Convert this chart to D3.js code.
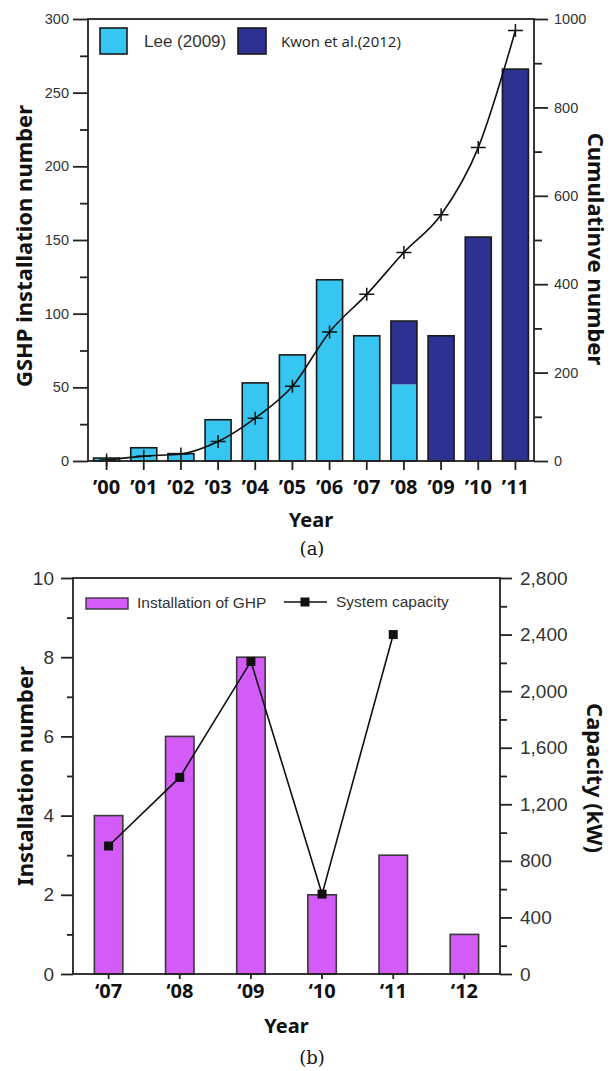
<!DOCTYPE html>
<html>
<head>
<meta charset="utf-8">
<script src="https://cdn.jsdelivr.net/npm/d3@7/dist/d3.min.js"></script>
<style>
  body { margin: 0; background: #fff; }
  svg { display: block; }
  .tick-label { font-family: "Liberation Sans", Arial, sans-serif; fill: #333; }
  .title { font-family: "Noto Sans", sans-serif; font-weight: bold; fill: #111; }
</style>
</head>
<body>
<svg id="chart" width="611" height="1071"></svg>
<script>
// ---- panel (a) data
const yearsA = ["’00", "’01", "’02", "’03", "’04", "’05", "’06", "’07", "’08", "’09", "’10", "’11"];
const leeValues = [2, 9, 5, 28, 53, 72, 123, 85, 52, 0, 0, 0];
const kwonValues = [0, 0, 0, 0, 0, 0, 0, 0, 43, 85, 152, 266];
const cumulativeValues = [2, 11, 16, 44, 97, 169, 292, 377, 472, 557, 709, 974];
const leftTicksA = [0, 50, 100, 150, 200, 250, 300];
const rightTicksA = [0, 200, 400, 600, 800, 1000];

// ---- panel (b) data
const yearsB = ["‘07", "‘08", "‘09", "‘10", "‘11", "‘12"];
const ghpValues = [4, 6, 8, 2, 3, 1];
const capacityYears = ["‘07", "‘08", "‘09", "‘10", "‘11"];
const capacityValues = [905, 1390, 2210, 565, 2400];
const leftTicksB = [0, 2, 4, 6, 8, 10];
const rightTicksB = [0, 400, 800, 1200, 1600, 2000, 2400, 2800];

const lightBlue = "#36c6f1", navy = "#2d3192", purple = "#d35cf8";
const svg = d3.select("#chart");

function frame(g, x0, x1, y0, y1) {
	g.append("rect")
		.attr("x", x0).attr("y", y0)
		.attr("width", x1 - x0).attr("height", y1 - y0)
		.attr("fill", "none").attr("stroke", "#222").attr("stroke-width", 1.8);
}

function styleAxis(sel, fontSize) {
	sel.select(".domain").remove();
	sel.selectAll(".tick line").attr("stroke", "#222").attr("stroke-width", 1.8);
	sel.selectAll(".tick text").attr("class", "tick-label").style("font-size", fontSize + "px");
}

// ================= panel (a)
(function() {
	const L = 88, R = 534, T = 19, B = 461;
	const g = svg.append("g");

	const x = d3.scaleBand().domain(yearsA).range([L, R]).paddingInner(0.3).paddingOuter(0.15);
	const y = d3.scaleLinear().domain([0, 300]).range([B, T]);
	const y2 = d3.scaleLinear().domain([0, 1000]).range([B, T]);
	const cx = d => x(d) + x.bandwidth() / 2;

	// bars: Lee below, Kwon stacked on top, one outline round the total
	const bars = g.append("g");
	yearsA.forEach((yr, i) => {
		const lee = leeValues[i], kwon = kwonValues[i];
		if (lee > 0) bars.append("rect").attr("x", x(yr)).attr("width", x.bandwidth())
			.attr("y", y(lee)).attr("height", y(0) - y(lee)).attr("fill", lightBlue);
		if (kwon > 0) bars.append("rect").attr("x", x(yr)).attr("width", x.bandwidth())
			.attr("y", y(lee + kwon)).attr("height", y(lee) - y(lee + kwon)).attr("fill", navy);
		bars.append("rect").attr("x", x(yr)).attr("width", x.bandwidth())
			.attr("y", y(lee + kwon)).attr("height", y(0) - y(lee + kwon))
			.attr("fill", "none").attr("stroke", "#1a1a1a").attr("stroke-width", 1.6);
	});

	// cumulative line with + markers
	const line = d3.line().x((d, i) => cx(yearsA[i])).y(d => y2(d)).curve(d3.curveMonotoneX);
	g.append("path").datum(cumulativeValues).attr("d", line)
		.attr("fill", "none").attr("stroke", "#111").attr("stroke-width", 1.6);
	g.selectAll(".cross").data(cumulativeValues).join("path")
		.attr("transform", (d, i) => `translate(${cx(yearsA[i])},${y2(d)})`)
		.attr("d", "M-7.5,0H7.5M0,-6.5V6.5")
		.attr("stroke", "#111").attr("stroke-width", 1.5);

	frame(g, L, R, T, B);

	// axes
	g.append("g").attr("transform", `translate(${L},0)`)
		.call(d3.axisLeft(y).tickValues(leftTicksA).tickSize(15).tickPadding(4))
		.call(s => styleAxis(s, 14.5));
	g.append("g").attr("transform", `translate(${L},0)`)
		.call(d3.axisLeft(y).tickValues(d3.range(25, 300, 50)).tickSize(8).tickFormat(""))
		.call(s => styleAxis(s, 14));
	g.append("g").attr("transform", `translate(${R},0)`)
		.call(d3.axisRight(y2).tickValues(rightTicksA).tickSize(14).tickPadding(6).tickFormat(d3.format("d")))
		.call(s => styleAxis(s, 14.5));
	g.append("g").attr("transform", `translate(${R},0)`)
		.call(d3.axisRight(y2).tickValues(d3.range(100, 1000, 200)).tickSize(8).tickFormat(""))
		.call(s => styleAxis(s, 14));
	const xa = g.append("g").attr("transform", `translate(0,${B})`)
		.call(d3.axisBottom(x).tickSize(9).tickPadding(6));
	styleAxis(xa, 20);
	xa.selectAll(".tick text").attr("class", "title").attr("dy", null).attr("y", 33)
		.style("font-size", "20px");

	// legend
	const leg = g.append("g");
	leg.append("rect").attr("x", 100).attr("y", 28).attr("width", 27).attr("height", 26)
		.attr("fill", lightBlue).attr("stroke", "#1a1a1a").attr("stroke-width", 1.6);
	leg.append("text").attr("x", 144).attr("y", 47).text("Lee (2009)")
		.attr("class", "tick-label").style("font-size", "17px");
	leg.append("rect").attr("x", 238).attr("y", 28).attr("width", 28).attr("height", 26)
		.attr("fill", navy).attr("stroke", "#1a1a1a").attr("stroke-width", 1.6);
	leg.append("text").attr("x", 281).attr("y", 47).text("Kwon et al.(2012)")
		.style("font-family", "'Open Sans', sans-serif").style("font-size", "15px").attr("fill", "#222");

	// titles
	g.append("text").attr("class", "title").attr("text-anchor", "middle")
		.attr("transform", "translate(32,246) rotate(-90)").style("font-size", "22px")
		.text("GSHP installation number");
	g.append("text").attr("class", "title").attr("text-anchor", "middle")
		.attr("transform", "translate(588,249) rotate(90)").style("font-size", "22px")
		.text("Cumulatinve number");
	g.append("text").attr("class", "title").attr("text-anchor", "middle")
		.attr("x", (L + R) / 2).attr("y", 527).style("font-size", "20px").text("Year");
	g.append("text").attr("text-anchor", "middle").attr("x", 312).attr("y", 555)
		.style("font-family", "'DejaVu Serif', serif").style("font-size", "18px").attr("fill", "#111")
		.text("(a)");
})();

// ================= panel (b)
(function() {
	const L = 73, R = 500, T = 578, B = 974;
	const g = svg.append("g");

	const x = d3.scaleBand().domain(yearsB).range([L, R]).paddingInner(0.6).paddingOuter(0.3);
	const y = d3.scaleLinear().domain([0, 10]).range([B, T]);
	const y2 = d3.scaleLinear().domain([0, 2800]).range([B, T]);
	const cx = d => x(d) + x.bandwidth() / 2;

	g.append("g").selectAll("rect").data(ghpValues).join("rect")
		.attr("x", (d, i) => x(yearsB[i])).attr("width", x.bandwidth())
		.attr("y", d => y(d)).attr("height", d => y(0) - y(d))
		.attr("fill", purple).attr("stroke", "#3a3a3a").attr("stroke-width", 1.6);

	const line = d3.line().x((d, i) => cx(capacityYears[i])).y(d => y2(d));
	g.append("path").datum(capacityValues).attr("d", line)
		.attr("fill", "none").attr("stroke", "#111").attr("stroke-width", 1.6);
	g.selectAll(".sq").data(capacityValues).join("rect")
		.attr("x", (d, i) => cx(capacityYears[i]) - 4.5).attr("y", d => y2(d) - 4.5)
		.attr("width", 9).attr("height", 9).attr("fill", "#111");

	frame(g, L, R, T, B);

	g.append("g").attr("transform", `translate(${L},0)`)
		.call(d3.axisLeft(y).tickValues(leftTicksB).tickSize(12).tickPadding(7))
		.call(s => styleAxis(s, 19));
	g.append("g").attr("transform", `translate(${L},0)`)
		.call(d3.axisLeft(y).tickValues(d3.range(1, 10, 2)).tickSize(6).tickFormat(""))
		.call(s => styleAxis(s, 19));
	g.append("g").attr("transform", `translate(${R},0)`)
		.call(d3.axisRight(y2).tickValues(rightTicksB).tickSize(12).tickPadding(8).tickFormat(d3.format(",")))
		.call(s => styleAxis(s, 19));
	g.append("g").attr("transform", `translate(${R},0)`)
		.call(d3.axisRight(y2).tickValues(d3.range(200, 2800, 400)).tickSize(7).tickFormat(""))
		.call(s => styleAxis(s, 19));
	const xa = g.append("g").attr("transform", `translate(0,${B})`)
		.call(d3.axisBottom(x).tickSize(5).tickPadding(6));
	styleAxis(xa, 20);
	xa.selectAll(".tick text").attr("class", "title").attr("dy", null).attr("y", 24)
		.style("font-size", "20px");

	// legend
	const leg = g.append("g");
	leg.append("rect").attr("x", 86).attr("y", 598).attr("width", 42).attr("height", 11)
		.attr("fill", purple).attr("stroke", "#3a3a3a").attr("stroke-width", 1.4);
	leg.append("text").attr("x", 137).attr("y", 608).text("Installation of GHP")
		.attr("class", "tick-label").style("font-size", "15.5px");
	leg.append("line").attr("x1", 284).attr("x2", 327).attr("y1", 602).attr("y2", 602)
		.attr("stroke", "#111").attr("stroke-width", 1.6);
	leg.append("rect").attr("x", 300.5).attr("y", 597.5).attr("width", 9).attr("height", 9).attr("fill", "#111");
	leg.append("text").attr("x", 336).attr("y", 607).text("System capacity")
		.attr("class", "tick-label").style("font-size", "15.5px");

	g.append("text").attr("class", "title").attr("text-anchor", "middle")
		.attr("transform", "translate(33,776) rotate(-90)").style("font-size", "22px")
		.text("Installation number");
	g.append("text").attr("class", "title").attr("text-anchor", "middle")
		.attr("transform", "translate(587,778) rotate(90)").style("font-size", "22px")
		.text("Capacity (kW)");
	g.append("text").attr("class", "title").attr("text-anchor", "middle")
		.attr("x", (L + R) / 2).attr("y", 1033).style("font-size", "20px").text("Year");
	g.append("text").attr("text-anchor", "middle").attr("x", 312).attr("y", 1064)
		.style("font-family", "'DejaVu Serif', serif").style("font-size", "18px").attr("fill", "#111")
		.text("(b)");
})();
</script>
</body>
</html>
